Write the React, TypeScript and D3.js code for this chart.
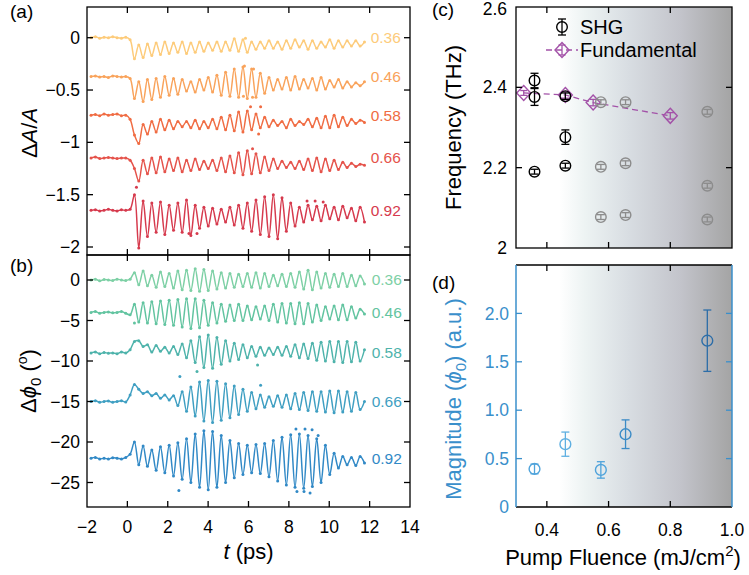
import React from "react";
import * as d3 from "d3";

// ---------- shared time grid for panels (a) and (b), ps ----------
const T = [
  -1.8, -1.585, -1.37, -1.155, -0.94, -0.725, -0.51, -0.295, -0.08, 0.135,
  0.35, 0.565, 0.78, 0.995, 1.21, 1.425, 1.64, 1.855, 2.07, 2.285,
  2.5, 2.715, 2.93, 3.145, 3.36, 3.575, 3.79, 4.005, 4.22, 4.435,
  4.65, 4.865, 5.08, 5.295, 5.51, 5.725, 5.94, 6.155, 6.37, 6.585,
  6.8, 7.015, 7.23, 7.445, 7.66, 7.875, 8.09, 8.305, 8.52, 8.735,
  8.95, 9.165, 9.38, 9.595, 9.81, 10.025, 10.24, 10.455, 10.67, 10.885,
  11.1, 11.315, 11.53, 11.745,
];

const fluenceLabels = ["0.36", "0.46", "0.58", "0.66", "0.92"];
const aColors = ["#FDCB7A", "#F9A35B", "#F06C43", "#E5534B", "#D63A4D"];
const bColors = ["#7DD0A5", "#62C4A0", "#4EB3AB", "#3F9FC2", "#3189C6"];

// ---------- panel (a): ΔA/A traces ----------
const a036 = [
  0.0, 0.01, -0.005, 0.005, 0.0, 0.01, 0.0, -0.005, 0.005, -0.02,
  -0.20, -0.07, -0.19, -0.06, -0.17, -0.05, -0.16, -0.04, -0.15, -0.05,
  -0.14, -0.04, -0.15, -0.05, -0.14, -0.04, -0.13, -0.05, -0.12, -0.04,
  -0.13, -0.04, -0.12, -0.01, -0.13, -0.02, -0.14, -0.04, -0.11, -0.04,
  -0.10, -0.03, -0.10, -0.04, -0.11, -0.03, -0.10, -0.02, -0.09, -0.03,
  -0.11, -0.03, -0.10, -0.04, -0.09, -0.02, -0.10, -0.03, -0.09, -0.03,
  -0.08, -0.03, -0.08, -0.04,
];
const a046 = [
  -0.37, -0.365, -0.375, -0.37, -0.38, -0.365, -0.37, -0.375, -0.37, -0.39,
  -0.58, -0.42, -0.61, -0.40, -0.59, -0.39, -0.57, -0.37, -0.55, -0.39,
  -0.54, -0.40, -0.51, -0.42, -0.52, -0.40, -0.50, -0.38, -0.52, -0.36,
  -0.55, -0.33, -0.56, -0.30, -0.57, -0.28, -0.58, -0.30, -0.57, -0.34,
  -0.53, -0.38, -0.50, -0.40, -0.49, -0.38, -0.50, -0.37, -0.49, -0.40,
  -0.48, -0.39, -0.50, -0.38, -0.49, -0.41, -0.47, -0.40, -0.48, -0.42,
  -0.47, -0.43, -0.46, -0.42,
];
const a058 = [
  -0.74, -0.735, -0.745, -0.73, -0.74, -0.735, -0.73, -0.745, -0.74, -0.78,
  -0.93, -1.01, -0.83, -0.92, -0.80, -0.90, -0.78, -0.88, -0.79, -0.87,
  -0.80, -0.85, -0.80, -0.86, -0.79, -0.87, -0.80, -0.86, -0.78, -0.87,
  -0.76, -0.88, -0.74, -0.89, -0.71, -0.90, -0.70, -0.88, -0.73, -0.86,
  -0.76, -0.85, -0.79, -0.84, -0.80, -0.86, -0.78, -0.84, -0.80, -0.83,
  -0.78, -0.85, -0.77, -0.86, -0.75, -0.86, -0.74, -0.85, -0.76, -0.84,
  -0.78, -0.82, -0.79, -0.81,
];
const a066 = [
  -1.15, -1.14, -1.155, -1.15, -1.145, -1.15, -1.155, -1.15, -1.15, -1.17,
  -1.25, -1.37, -1.17, -1.30, -1.15, -1.29, -1.14, -1.28, -1.16, -1.27,
  -1.15, -1.28, -1.17, -1.27, -1.16, -1.26, -1.18, -1.25, -1.17, -1.27,
  -1.15, -1.28, -1.13, -1.29, -1.10, -1.31, -1.08, -1.30, -1.11, -1.29,
  -1.14, -1.27, -1.16, -1.25, -1.18, -1.24, -1.19, -1.25, -1.18, -1.26,
  -1.16, -1.27, -1.15, -1.28, -1.16, -1.27, -1.17, -1.26, -1.19, -1.24,
  -1.20, -1.23, -1.21, -1.22,
];
const a092 = [
  -1.65, -1.645, -1.655, -1.65, -1.64, -1.65, -1.655, -1.645, -1.65, -1.64,
  -1.50, -2.01, -1.56, -1.90, -1.58, -1.86, -1.57, -1.88, -1.60, -1.84,
  -1.58, -1.86, -1.55, -1.89, -1.60, -1.82, -1.62, -1.80, -1.63, -1.78,
  -1.64, -1.76, -1.62, -1.79, -1.60, -1.82, -1.58, -1.85, -1.55, -1.88,
  -1.52, -1.90, -1.50, -1.92, -1.53, -1.85, -1.58, -1.80, -1.62, -1.76,
  -1.60, -1.74, -1.61, -1.75, -1.60, -1.73, -1.62, -1.74, -1.61, -1.72,
  -1.63, -1.75, -1.62, -1.76,
];
const aSeries = [a036, a046, a058, a066, a092];
// stray data points of (a): time, value, trace index
const aOutT = [5.85, 5.8, 6.25, 5.75, 6.2, 6.1, 6.6, 6.5, 6.2, 0.45, 3.05, 3.45, 8.9, 9.3, 9.7];
const aOutV = [-0.005, -0.27, -0.30, -0.56, -0.57, -0.66, -0.66, -0.92, -1.06, -1.43, -1.87, -1.87, -1.56, -1.56, -1.57];
const aOutS = [0, 1, 1, 1, 1, 2, 2, 2, 3, 4, 4, 4, 4, 4, 4];

// ---------- panel (b): Δφ0 traces (deg) ----------
const b036 = [
  0.0, 0.1, -0.1, 0.05, 0.0, -0.05, 0.1, 0.0, -0.05, 0.1,
  0.9, -0.6, 1.1, -0.7, 0.6, -0.9, 1.0, -0.8, 0.8, -1.0,
  1.1, -1.2, 1.2, -1.3, 1.4, -1.4, 1.3, -1.3, 1.1, -1.1,
  0.9, -1.0, 0.8, -0.9, 0.7, -0.8, 0.8, -0.9, 0.9, -1.0,
  0.8, -0.8, 0.6, -0.7, 0.7, -0.8, 0.8, -0.9, 1.0, -1.1,
  1.2, -1.2, 1.0, -1.0, 0.8, -0.9, 0.7, -0.8, 0.8, -0.8,
  0.6, -0.7, 0.5, -0.5,
];
const b046 = [
  -4.0, -3.9, -4.1, -4.0, -3.95, -4.05, -4.0, -3.9, -4.1, -4.3,
  -3.0, -5.2, -2.8, -5.3, -2.7, -5.4, -2.6, -5.5, -2.5, -5.6,
  -2.4, -5.8, -2.3, -6.0, -2.3, -5.9, -2.5, -5.6, -2.8, -5.3,
  -3.0, -5.1, -3.1, -5.0, -3.0, -5.0, -3.2, -4.9, -3.3, -4.8,
  -3.2, -5.0, -3.0, -5.2, -2.9, -5.3, -2.9, -5.4, -2.8, -5.4,
  -2.9, -5.2, -3.1, -5.0, -3.3, -4.8, -3.2, -4.9, -3.1, -4.9,
  -3.3, -4.7, -3.6, -4.2,
];
const b058 = [
  -9.0, -8.9, -9.1, -8.95, -9.05, -9.0, -9.1, -8.9, -9.0, -8.6,
  -7.6, -7.5, -8.2, -8.0, -8.9, -8.1, -8.8, -8.3, -9.0, -8.2,
  -9.2, -7.9, -9.6, -7.5, -10.2, -7.0, -10.8, -6.8, -10.9, -7.1,
  -10.4, -7.5, -10.0, -7.8, -9.8, -8.0, -9.6, -8.2, -9.4, -8.3,
  -9.3, -8.4, -9.2, -8.3, -9.3, -8.2, -9.4, -8.0, -9.6, -7.9,
  -9.7, -7.8, -9.9, -7.7, -10.0, -7.6, -10.1, -7.6, -10.2, -7.6,
  -10.1, -7.7, -10.0, -8.6,
];
const b066 = [
  -15.0, -14.9, -15.1, -15.0, -14.95, -15.1, -15.0, -14.9, -15.05, -14.2,
  -12.9, -13.5, -14.0, -13.8, -14.3, -14.0, -14.6, -14.2, -14.8, -14.3,
  -15.5, -13.8, -16.2, -13.2, -16.8, -12.6, -17.4, -12.4, -17.6, -12.5,
  -17.3, -12.8, -17.0, -13.1, -16.6, -13.5, -16.2, -13.9, -15.9, -14.2,
  -15.7, -14.4, -15.6, -14.3, -15.7, -14.2, -15.9, -14.0, -16.0, -13.9,
  -16.1, -13.8, -16.2, -13.8, -16.3, -13.7, -16.4, -13.7, -16.3, -13.8,
  -16.2, -13.9, -16.0, -15.0,
];
const b092 = [
  -22.0, -21.9, -22.1, -22.0, -22.1, -21.95, -22.0, -22.1, -21.9, -21.5,
  -20.0, -22.8, -20.5, -23.0, -21.0, -23.5, -20.6, -23.8, -20.4, -24.2,
  -20.1, -24.6, -19.6, -25.0, -19.0, -25.6, -18.6, -25.9, -18.7, -25.6,
  -19.2, -25.0, -19.8, -24.4, -20.2, -24.0, -20.4, -23.8, -20.3, -23.9,
  -20.2, -24.3, -19.8, -24.8, -19.4, -25.3, -19.1, -25.6, -19.0, -25.7,
  -19.2, -25.5, -19.6, -25.0, -20.4, -24.0, -21.4, -23.2, -21.8, -22.8,
  -21.9, -22.9, -21.8, -22.6,
];
const bSeries = [b036, b046, b058, b066, b092];
const bOutT = [0.35, 3.45, 6.45, 2.6, 6.6, 2.55, 8.35, 8.8, 9.15, 9.45, 8.4, 8.75, 9.05];
const bOutV = [-5.3, -11.3, -10.5, -11.9, -13.0, -26.0, -18.4, -18.4, -18.5, -19.2, -26.1, -26.1, -26.3];
const bOutS = [1, 2, 2, 3, 3, 4, 4, 4, 4, 4, 4, 4, 4];

// ---------- panel (c): frequencies ----------
const shgX = [0.36, 0.36, 0.36, 0.46, 0.46, 0.46, 0.575, 0.575, 0.575, 0.655, 0.655, 0.655, 0.92, 0.92, 0.92];
const shgY = [2.417, 2.376, 2.19, 2.378, 2.276, 2.205, 2.363, 2.202, 2.077, 2.363, 2.211, 2.082, 2.339, 2.155, 2.071];
const shgErr = [0.018, 0.021, 0.006, 0.008, 0.018, 0.006, 0.006, 0.006, 0.006, 0.006, 0.006, 0.006, 0.006, 0.006, 0.006];
const shgDark = [true, true, true, true, true, true, false, false, false, false, false, false, false, false, false];
const fundX = [0.325, 0.46, 0.55, 0.8];
const fundY = [2.386, 2.381, 2.362, 2.329];
const fundErr = [0.006, 0.008, 0.008, 0.008];
const cYTicks = [2, 2.2, 2.4, 2.6];
const cYTickLabels = ["2", "2.2", "2.4", "2.6"];

// ---------- panel (d): magnitudes ----------
const dX = [0.36, 0.46, 0.575, 0.655, 0.92];
const dY = [0.393, 0.649, 0.383, 0.752, 1.718];
const dErr = [0.05, 0.125, 0.085, 0.148, 0.317];
const dColors = ["#4FA3DB", "#5EAFE1", "#4FA3DB", "#3B8BC6", "#2C6DA8"];
const dYTicks = [0, 0.5, 1, 1.5, 2];
const dYTickLabels = ["0", "0.5", "1.0", "1.5", "2.0"];
const fXTicks = [0.4, 0.6, 0.8, 1.0];
const fXTickLabels = ["0.4", "0.6", "0.8", "1.0"];

const aYTicks = [0, -0.5, -1, -1.5, -2];
const bYTicks = [0, -5, -10, -15, -20, -25];
const tTicks = [-2, 0, 2, 4, 6, 8, 10, 12, 14];

const FONT = "'Liberation Sans', Arial, Helvetica, sans-serif";
const BLUE = "#3A8FCB";
const PURPLE = "#A352A8";
const GRAY = "#8C8C8C";

export default function App() {
  // layout
  const L = 87, R = 410;
  const aTop = 7, mid = 255, bBot = 507;
  const cL = 516, cR = 732, cTop = 7, cBot = 248, dTop = 265, dBot = 507;
  const TK = 6;

  const xT = d3.scaleLinear().domain([-2, 14]).range([L, R]);
  const yA = d3.scaleLinear().domain([0, -2]).range([37.7, 247]);
  const yB = d3.scaleLinear().domain([0, -25]).range([280, 482.5]);
  const xF = d3.scaleLinear().domain([0.3, 1.0]).range([cL, cR]);
  const yC = d3.scaleLinear().domain([2, 2.6]).range([cBot, cTop]);
  const yD = d3.scaleLinear().domain([0, 2.5]).range([dBot, dTop]);
  const fmt = d3.format("~g");

  const mkLine = (ys: d3.ScaleLinear<number, number>) =>
    d3
      .line<number>()
      .x((_, i) => xT(T[i]))
      .y((v) => ys(v))
      .curve(d3.curveCatmullRom.alpha(0.5));
  const lineA = mkLine(yA);
  const lineB = mkLine(yB);
  const fundLine = d3
    .line<number>()
    .x((_, i) => xF(fundX[i]))
    .y((v) => yC(v));

  const tick = (x1: number, y1: number, x2: number, y2: number, c = "#000", k = "") => (
    <line key={k} x1={x1} y1={y1} x2={x2} y2={y2} stroke={c} strokeWidth={1.3} />
  );

  const errBar = (cx: number, y1: number, y2: number, c: string, k: string, cap = 4) => (
    <g key={k} stroke={c} strokeWidth={1.3}>
      <line x1={cx} x2={cx} y1={y1} y2={y2} />
      <line x1={cx - cap} x2={cx + cap} y1={y1} y2={y1} />
      <line x1={cx - cap} x2={cx + cap} y1={y2} y2={y2} />
    </g>
  );

  const diamond = (x: number, y: number) => `M${x},${y - 7.5}L${x + 7},${y}L${x},${y + 7.5}L${x - 7},${y}Z`;

  const tickFont = 17.5;
  const titleFont = 22;

  return (
    <svg
      width={749}
      height={575}
      style={{ position: "absolute", left: 0, top: 0, fontFamily: FONT }}
    >
      <defs>
        <linearGradient id="fadeGrad" gradientUnits="userSpaceOnUse" x1={xF(0.44)} x2={xF(1.0)} y1={0} y2={0}>
          <stop offset="0" stopColor="#FFFFFF" />
          <stop offset="0.15" stopColor="#EDF3F3" />
          <stop offset="0.4" stopColor="#D8DDE2" />
          <stop offset="0.7" stopColor="#C3C4CB" />
          <stop offset="1" stopColor="#A4A4A4" />
        </linearGradient>
      </defs>
      <rect x={0} y={0} width={749} height={575} fill="#fff" />

      {/* ================= panel (a) ================= */}
      {aSeries.map((s, si) => (
        <g key={"a" + si}>
          <path d={lineA(s) || ""} fill="none" stroke={aColors[si]} strokeWidth={1.5} />
          {s.map((v, i) => (
            <circle key={i} cx={xT(T[i])} cy={yA(v)} r={1.5} fill={aColors[si]} />
          ))}
          <text x={xT(12) + 1} y={yA(s[0])} dy="0.35em" fontSize={15.5} fill={aColors[si]}>
            {fluenceLabels[si]}
          </text>
        </g>
      ))}
      {aOutT.map((t, i) => (
        <circle key={"ao" + i} cx={xT(t)} cy={yA(aOutV[i])} r={1.5} fill={aColors[aOutS[i]]} />
      ))}

      {/* ================= panel (b) ================= */}
      {bSeries.map((s, si) => (
        <g key={"b" + si}>
          <path d={lineB(s) || ""} fill="none" stroke={bColors[si]} strokeWidth={1.5} />
          {s.map((v, i) => (
            <circle key={i} cx={xT(T[i])} cy={yB(v)} r={1.5} fill={bColors[si]} />
          ))}
          <text x={xT(12) + 2} y={yB(s[0])} dy="0.35em" fontSize={15.5} fill={bColors[si]}>
            {fluenceLabels[si]}
          </text>
        </g>
      ))}
      {bOutT.map((t, i) => (
        <circle key={"bo" + i} cx={xT(t)} cy={yB(bOutV[i])} r={1.5} fill={bColors[bOutS[i]]} />
      ))}

      {/* frames (a),(b) */}
      <rect x={L} y={aTop} width={R - L} height={mid - aTop} fill="none" stroke="#000" strokeWidth={1.3} />
      <rect x={L} y={mid} width={R - L} height={bBot - mid} fill="none" stroke="#000" strokeWidth={1.3} />
      {aYTicks.map((v, i) => (
        <g key={"ayt" + i}>
          {tick(L, yA(v), L + TK, yA(v))}
          {tick(R, yA(v), R - TK, yA(v))}
          <text x={L - 7} y={yA(v)} dy="0.35em" textAnchor="end" fontSize={tickFont}>
            {fmt(v)}
          </text>
        </g>
      ))}
      {bYTicks.map((v, i) => (
        <g key={"byt" + i}>
          {tick(L, yB(v), L + TK, yB(v))}
          {tick(R, yB(v), R - TK, yB(v))}
          <text x={L - 7} y={yB(v)} dy="0.35em" textAnchor="end" fontSize={tickFont}>
            {fmt(v)}
          </text>
        </g>
      ))}
      {tTicks.slice(1, -1).map((t, i) => (
        <g key={"tt" + i}>
          {tick(xT(t), aTop, xT(t), aTop + TK)}
          {tick(xT(t), mid, xT(t), mid - TK)}
          {tick(xT(t), mid, xT(t), mid + TK)}
          {tick(xT(t), bBot, xT(t), bBot - TK)}
        </g>
      ))}
      {tTicks.map((t, i) => (
        <text key={"tl" + i} x={xT(t)} y={533} textAnchor="middle" fontSize={tickFont}>
          {fmt(t)}
        </text>
      ))}
      <text x={(L + R) / 2} y={559} textAnchor="middle" fontSize={titleFont}>
        <tspan fontStyle="italic">t</tspan> (ps)
      </text>
      <text transform={`translate(37,${(aTop + mid) / 2 + 2}) rotate(-90)`} textAnchor="middle" fontSize={titleFont}>
        Δ<tspan fontStyle="italic">A</tspan>/<tspan fontStyle="italic">A</tspan>
      </text>
      <text transform={`translate(36,${(mid + bBot) / 2}) rotate(-90)`} textAnchor="middle" fontSize={titleFont}>
        Δ<tspan fontStyle="italic">ϕ</tspan>
        <tspan fontSize={15} dy={5}>0</tspan>
        <tspan dy={-5}> (</tspan>
        <tspan fontSize={14} dy={-9}>o</tspan>
        <tspan dy={9}>)</tspan>
      </text>
      <text x={10} y={18} fontSize={19}>(a)</text>
      <text x={10} y={272} fontSize={19}>(b)</text>

      {/* ================= panel (c) ================= */}
      <rect x={cL} y={cTop} width={cR - cL} height={cBot - cTop} fill="url(#fadeGrad)" />
      <path
        d={fundLine(fundY) || ""}
        fill="none"
        stroke={PURPLE}
        strokeWidth={1.3}
        strokeDasharray="6,4"
      />
      {fundX.map((x, i) => (
        <g key={"f" + i}>
          {errBar(xF(x), yC(fundY[i] + fundErr[i]), yC(fundY[i] - fundErr[i]), PURPLE, "fe" + i, 3.5)}
          <path d={diamond(xF(x), yC(fundY[i]))} fill="none" stroke={PURPLE} strokeWidth={1.4} />
        </g>
      ))}
      {shgX.map((x, i) => {
        const c = shgDark[i] ? "#000" : GRAY;
        return (
          <g key={"s" + i}>
            {errBar(xF(x), yC(shgY[i] + shgErr[i]), yC(shgY[i] - shgErr[i]), c, "se" + i, 4)}
            <circle cx={xF(x)} cy={yC(shgY[i])} r={5.3} fill="none" stroke={c} strokeWidth={1.4} />
          </g>
        );
      })}
      {/* legend */}
      {errBar(562, 19, 35, "#000", "lg1", 4)}
      <circle cx={562} cy={27} r={5.3} fill="none" stroke="#000" strokeWidth={1.4} />
      <text x={580} y={27} dy="0.35em" fontSize={20}>SHG</text>
      <line x1={546} x2={578} y1={50} y2={50} stroke={PURPLE} strokeWidth={1.3} strokeDasharray="6,4" />
      {errBar(562, 45, 55, PURPLE, "lg2", 3.5)}
      <path d={diamond(562, 50)} fill="none" stroke={PURPLE} strokeWidth={1.4} />
      <text x={580} y={50} dy="0.35em" fontSize={20}>Fundamental</text>

      <rect x={cL} y={cTop} width={cR - cL} height={cBot - cTop} fill="none" stroke="#000" strokeWidth={1.3} />
      {cYTicks.map((v, i) => (
        <g key={"cyt" + i}>
          {i > 0 && i < cYTicks.length - 1 && tick(cL, yC(v), cL + TK, yC(v))}
          {i > 0 && i < cYTicks.length - 1 && tick(cR, yC(v), cR - TK, yC(v))}
          <text
            x={cL - 9}
            y={i === cYTicks.length - 1 ? 15 : yC(v)}
            dy={i === cYTicks.length - 1 ? 0 : "0.35em"}
            textAnchor="end"
            fontSize={tickFont}
          >
            {cYTickLabels[i]}
          </text>
        </g>
      ))}
      {fXTicks.slice(0, -1).map((v, i) => (
        <g key={"cxt" + i}>
          {tick(xF(v), cTop, xF(v), cTop + TK)}
          {tick(xF(v), cBot, xF(v), cBot - TK)}
        </g>
      ))}
      <text transform={`translate(461,${(cTop + cBot) / 2}) rotate(-90)`} textAnchor="middle" fontSize={titleFont}>
        Frequency (THz)
      </text>
      <text x={432} y={16} fontSize={19}>(c)</text>

      {/* ================= panel (d) ================= */}
      <rect x={cL} y={dTop} width={cR - cL} height={dBot - dTop} fill="url(#fadeGrad)" />
      {dX.map((x, i) => (
        <g key={"d" + i}>
          {errBar(xF(x), yD(dY[i] + dErr[i]), yD(dY[i] - dErr[i]), dColors[i], "de" + i, 4)}
          <circle cx={xF(x)} cy={yD(dY[i])} r={5.4} fill="none" stroke={dColors[i]} strokeWidth={1.4} />
        </g>
      ))}
      <line x1={cL} x2={cR} y1={dTop} y2={dTop} stroke="#000" strokeWidth={1.3} />
      <line x1={cL} x2={cR} y1={dBot} y2={dBot} stroke="#000" strokeWidth={1.3} />
      <line x1={cL} x2={cL} y1={dTop} y2={dBot} stroke={BLUE} strokeWidth={1.5} />
      <line x1={cR} x2={cR} y1={dTop} y2={dBot} stroke={BLUE} strokeWidth={1.5} />
      {dYTicks.map((v, i) => (
        <g key={"dyt" + i}>
          {i > 0 && tick(cL, yD(v), cL + TK, yD(v), BLUE)}
          {i > 0 && tick(cR, yD(v), cR - TK, yD(v), BLUE)}
          <text x={cL - 7} y={yD(v)} dy="0.35em" textAnchor="end" fontSize={tickFont} fill={BLUE}>
            {dYTickLabels[i]}
          </text>
        </g>
      ))}
      {fXTicks.slice(0, -1).map((v, i) => (
        <g key={"dxt" + i}>
          {tick(xF(v), dTop, xF(v), dTop + TK)}
          {tick(xF(v), dBot, xF(v), dBot - TK)}
        </g>
      ))}
      {fXTicks.map((v, i) => (
        <text key={"fxl" + i} x={xF(v)} y={536} textAnchor="middle" fontSize={tickFont}>
          {fXTickLabels[i]}
        </text>
      ))}
      <text transform={`translate(461,399) rotate(-90)`} textAnchor="middle" fontSize={titleFont} fill={BLUE}>
        Magnitude (<tspan fontStyle="italic">ϕ</tspan>
        <tspan fontSize={15} dy={5}>0</tspan>
        <tspan dy={-5}>) (a.u.)</tspan>
      </text>
      <text x={(cL + cR) / 2 - 1} y={565} textAnchor="middle" fontSize={titleFont}>
        Pump Fluence (mJ/cm<tspan fontSize={15} dy={-9}>2</tspan>
        <tspan dy={9}>)</tspan>
      </text>
      <text x={432} y={289} fontSize={19}>(d)</text>
    </svg>
  );
}
